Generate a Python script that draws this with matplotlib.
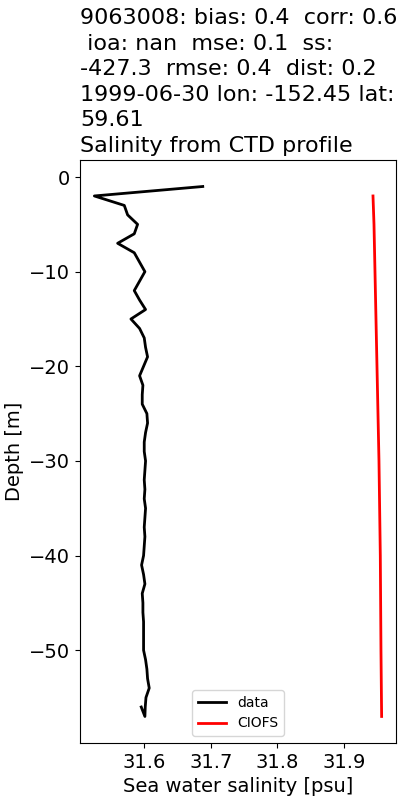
import matplotlib
matplotlib.use("Agg")
import matplotlib.pyplot as plt

data_depth = [-1, -2, -3, -4, -5, -6, -7, -8, -9, -10, -11, -12, -13, -14, -15,
              -16, -17, -18, -19, -20, -21, -22, -23, -24, -25, -26, -27, -28, -29, -30,
              -31, -32, -33, -34, -35, -36, -37, -38, -39, -40, -41, -42, -43, -44, -45,
              -46, -47, -48, -49, -50, -51, -52, -53, -54, -55, -56, -57, -56]
data_sal = [31.688, 31.525, 31.570, 31.575, 31.590, 31.585, 31.560, 31.585, 31.593, 31.601,
            31.593, 31.585, 31.593, 31.602, 31.580, 31.593, 31.600, 31.602, 31.605, 31.599,
            31.593, 31.598, 31.597, 31.597, 31.604, 31.605, 31.602, 31.600, 31.600, 31.602,
            31.601, 31.600, 31.601, 31.600, 31.602, 31.601, 31.600, 31.601, 31.600, 31.599,
            31.596, 31.599, 31.601, 31.597, 31.598, 31.598, 31.599, 31.599, 31.599, 31.599,
            31.602, 31.604, 31.605, 31.6075, 31.6026, 31.6015, 31.601, 31.5955]

model_depth = [-2, -5, -10, -15, -20, -25, -30, -35, -40, -45, -50, -55, -57]
model_sal = [31.944, 31.9455, 31.947, 31.9485, 31.950, 31.9515, 31.953, 31.954, 31.955,
             31.9555, 31.956, 31.9567, 31.957]

title = ("9063008: bias: 0.4  corr: 0.6\n ioa: nan  mse: 0.1  ss:\n"
         "-427.3  rmse: 0.4  dist: 0.2\n1999-06-30 lon: -152.45 lat:\n59.61\n"
         "Salinity from CTD profile")

plt.rcParams['font.size'] = 14
fig = plt.figure(figsize=(4, 8), dpi=100)
ax = fig.add_axes([0.2, 0.0713, 0.79, 0.7287])
ax.plot(data_sal, data_depth, color='k', lw=2, label='data')
ax.plot(model_sal, model_depth, color='r', lw=2, label='CIOFS')
ax.set_title(title, loc='left', fontsize=16, linespacing=1.34)
ax.set_xlabel('Sea water salinity [psu]')
ax.set_ylabel('Depth [m]')
ax.legend(loc='lower center', fontsize=10)
fig.savefig('out.png', dpi=100)
